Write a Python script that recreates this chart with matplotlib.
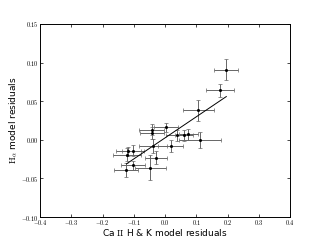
import matplotlib
matplotlib.use("Agg")
import matplotlib.pyplot as plt
import numpy as np

plt.rcParams['mathtext.fontset'] = 'cm'

ca_resid = [0.196, 0.176, 0.107, 0.003, -0.043, -0.042, 0.037, 0.061, 0.074, 0.112,
            -0.039, 0.019, -0.028, -0.047, -0.102, -0.125, -0.117, -0.102, -0.122]
ca_err = [0.038, 0.045, 0.051, 0.038, 0.040, 0.038, 0.035, 0.030, 0.030, 0.068,
          0.045, 0.040, 0.035, 0.050, 0.038, 0.038, 0.040, 0.035, 0.045]
ha_resid = [0.091, 0.064, 0.038, 0.016, 0.013, 0.009, 0.006, 0.006, 0.007, 0.000,
            -0.008, -0.008, -0.023, -0.036, -0.033, -0.039, -0.015, -0.014, -0.019]
ha_err = [0.014, 0.008, 0.014, 0.006, 0.007, 0.008, 0.007, 0.007, 0.007, 0.010,
          0.009, 0.008, 0.008, 0.016, 0.006, 0.009, 0.006, 0.007, 0.008]

fit_x = [-0.123, 0.196]
fit_y = [-0.031, 0.056]

xticks = [-0.4, -0.3, -0.2, -0.1, 0.0, 0.1, 0.2, 0.3, 0.4]
yticks = [-0.10, -0.05, 0.00, 0.05, 0.10, 0.15]

fig = plt.figure(figsize=(3.23, 2.42), dpi=100)
ax = fig.add_axes([0.124, 0.103, 0.774, 0.798])

ax.errorbar(ca_resid, ha_resid, xerr=ca_err, yerr=ha_err, fmt='o', ms=1.2,
            color='black', ecolor='0.4', elinewidth=0.7, capsize=1.3, capthick=0.5)
ax.plot(fit_x, fit_y, color='black', lw=0.7)

ax.set_xlim(-0.4, 0.4)
ax.set_ylim(-0.10, 0.15)
ax.set_xticks(xticks)
ax.set_yticks(yticks)
ax.set_xticklabels(["$%.1f$" % v if v >= 0 else "$-%.1f$" % abs(v) for v in xticks])
ax.set_yticklabels(["$%.2f$" % v if v >= 0 else "$-%.2f$" % abs(v) for v in yticks])
ax.tick_params(direction='in', top=True, right=True, labelsize=4.5, length=2.5, width=0.5, pad=1.0)
for s in ax.spines.values():
    s.set_linewidth(0.7)

ax.set_xlabel(r"Ca $\mathrm{II}$ H & K model residuals", fontsize=6.5, family='DejaVu Sans', va='center')
ax.set_ylabel(r"$\mathrm{H}_\alpha$ model residuals", fontsize=6.5, family='DejaVu Sans', va='center')
ax.xaxis.set_label_coords(0.5, -0.08)
ax.yaxis.set_label_coords(-0.108, 0.5)

fig.savefig("out.png", dpi=100)
